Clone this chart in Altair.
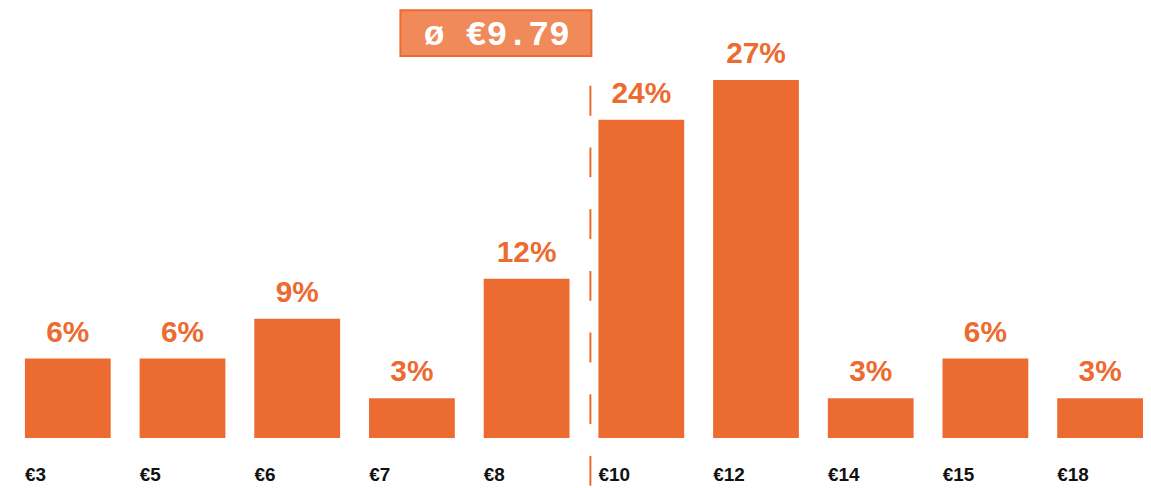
import altair as alt
import pandas as pd

prices = ["€3", "€5", "€6", "€7", "€8", "€10", "€12", "€14", "€15", "€18"]
shares = [6, 6, 9, 3, 12, 24, 27, 3, 6, 3]
mean_label = "ø €9.79"

ORANGE = "#EC6B30"
LIGHT = "#F08A5A"

df = pd.DataFrame({"price": prices, "share": shares})
df["label"] = [f"{v}%" for v in shares]

xscale = alt.Scale(domain=prices, range=[17, 1141], paddingInner=0.252,
                   paddingOuter=0, round=False)
yscale = alt.Scale(domain=[0, 27], range=[431, 71], nice=False, zero=True)

x = alt.X("price:N", scale=xscale, sort=prices, title=None,
          axis=alt.Axis(labelAlign="left", labelAngle=0, labelOffset=-43,
                        ticks=False, tickSize=0, domain=False, grid=False,
                        labelFont="Liberation Sans", labelFontWeight="bold",
                        labelFontSize=19, labelColor="#111111", labelPadding=28))
y = alt.Y("share:Q", scale=yscale, axis=None)

bars = alt.Chart(df).mark_bar(color=ORANGE).encode(x=x, y=y)

labels = alt.Chart(df).mark_text(
    color=ORANGE, font="Liberation Sans", fontWeight="bold", fontSize=30,
    baseline="alphabetic", dy=-17
).encode(x=alt.X("price:N", scale=xscale, sort=prices), y=y, text="label:N")

anchor = pd.DataFrame({"price": ["€8"], "label": [mean_label]})

rule = alt.Chart(anchor).mark_rule(
    color=ORANGE, strokeWidth=2, strokeDash=[30, 32], xOffset=21
).encode(
    x=alt.X("price:N", scale=xscale, sort=prices, bandPosition=1),
    y=alt.value(77), y2=alt.value(480)
)

box = alt.Chart(anchor).mark_rect(
    fill=LIGHT, stroke=ORANGE, strokeWidth=2, xOffset=-170, x2Offset=22
).encode(
    x=alt.X("price:N", scale=xscale, sort=prices, bandPosition=1),
    x2=alt.X2("price:N", bandPosition=1),
    y=alt.value(1), y2=alt.value(47)
)

box_text = alt.Chart(anchor).mark_text(
    color="white", font="Liberation Mono", fontWeight="bold", fontSize=35,
    baseline="middle", align="center", xOffset=-73
).encode(
    x=alt.X("price:N", scale=xscale, sort=prices, bandPosition=1),
    y=alt.value(25), text="label:N"
)

chart = alt.layer(bars, labels, rule, box, box_text).properties(
    width=1141, height=431,
    autosize=alt.AutoSizeParams(type="none"),
    padding={"left": 0, "top": 0, "right": 0, "bottom": 49},
).configure(
    background="white",
    view=alt.ViewConfig(stroke="transparent", strokeWidth=0),
)

chart.save("out.html", embed_options={"renderer": "svg", "actions": False})
